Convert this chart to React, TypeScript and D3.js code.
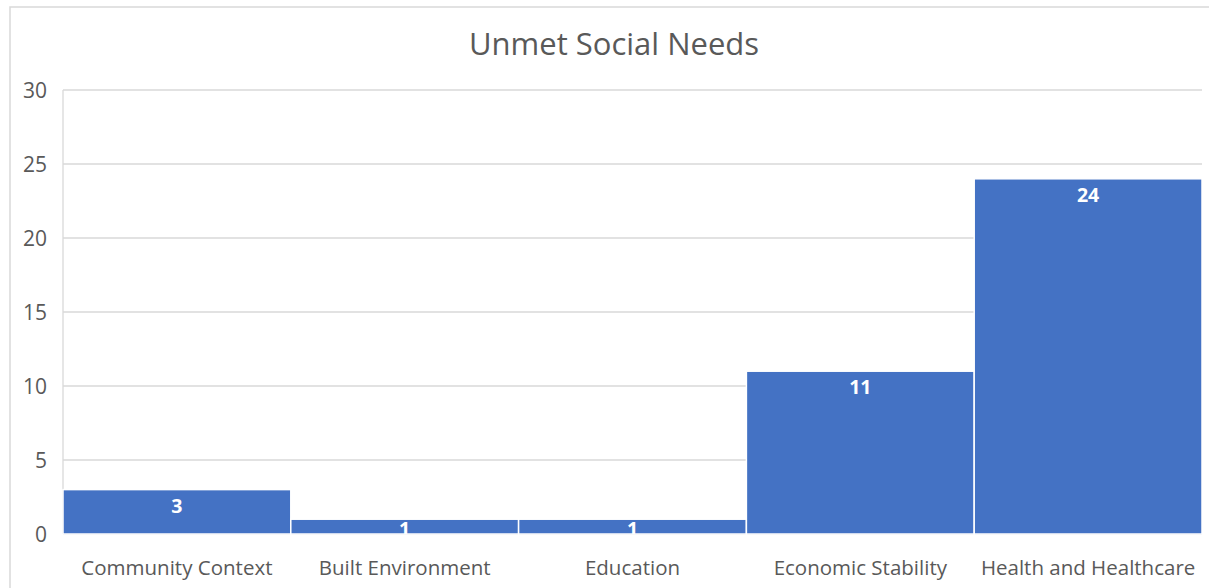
import React from "react";
import * as d3 from "d3";

const categories = ["Community Context", "Built Environment", "Education", "Economic Stability", "Health and Healthcare"];
const values = [3, 1, 1, 11, 24];
const yTicks = [0, 5, 10, 15, 20, 25, 30];
const title = "Unmet Social Needs";

const W = 1209;
const H = 588;
const FONT = "'Open Sans', Lato, sans-serif";

export default function App() {
  const left = 63, right = 1202, top = 90, bottom = 534;
  const x = d3.scaleBand<string>().domain(categories).range([left, right]).padding(0);
  const y = d3.scaleLinear().domain([0, 30]).range([bottom, top]);
  const textColor = "#595959";
  return (
    <svg width={W} height={H} style={{ position: "absolute", left: 0, top: 0, background: "#fff" }}>
      <defs>
        {categories.map((c, i) => {
          const by = y(values[i]);
          return (
            <clipPath id={`clip${i}`} key={c}>
              <rect x={x(c)!} y={by} width={x.bandwidth()} height={bottom - by} />
            </clipPath>
          );
        })}
      </defs>
      <rect x={10} y={7} width={1215} height={600} fill="#fff" stroke="#d9d9d9" strokeWidth={1.5} />
      <text x={614} y={55} textAnchor="middle" fontFamily={FONT} fontSize={31} fill={textColor}>{title}</text>
      {yTicks.map((t) => (
        <g key={t}>
          <line x1={left} x2={right} y1={y(t)} y2={y(t)} stroke="#d9d9d9" strokeWidth={1.3} />
          <text x={47} y={y(t) + 7.5} textAnchor="end" fontFamily={FONT} fontSize={21} fill={textColor}>{t}</text>
        </g>
      ))}
      <line x1={left} x2={left} y1={top} y2={bottom} stroke="#d9d9d9" strokeWidth={1.3} />
      {categories.map((c, i) => {
        const bx = x(c)!;
        const bw = x.bandwidth();
        const by = y(values[i]);
        const ly = Math.min(by + 23, bottom + 2);
        return (
          <g key={c}>
            <rect x={bx} y={by} width={bw} height={bottom - by} fill="#4472c4" stroke="#fff" strokeWidth={1.5} />
            <text x={bx + bw / 2} y={ly} textAnchor="middle" fontFamily={FONT} fontWeight="bold" fontSize={19.5} fill="#fff" clipPath={`url(#clip${i})`}>{values[i]}</text>
            <text x={bx + bw / 2} y={575} textAnchor="middle" fontFamily={FONT} fontSize={20.5} fill={textColor}>{c}</text>
          </g>
        );
      })}
    </svg>
  );
}
